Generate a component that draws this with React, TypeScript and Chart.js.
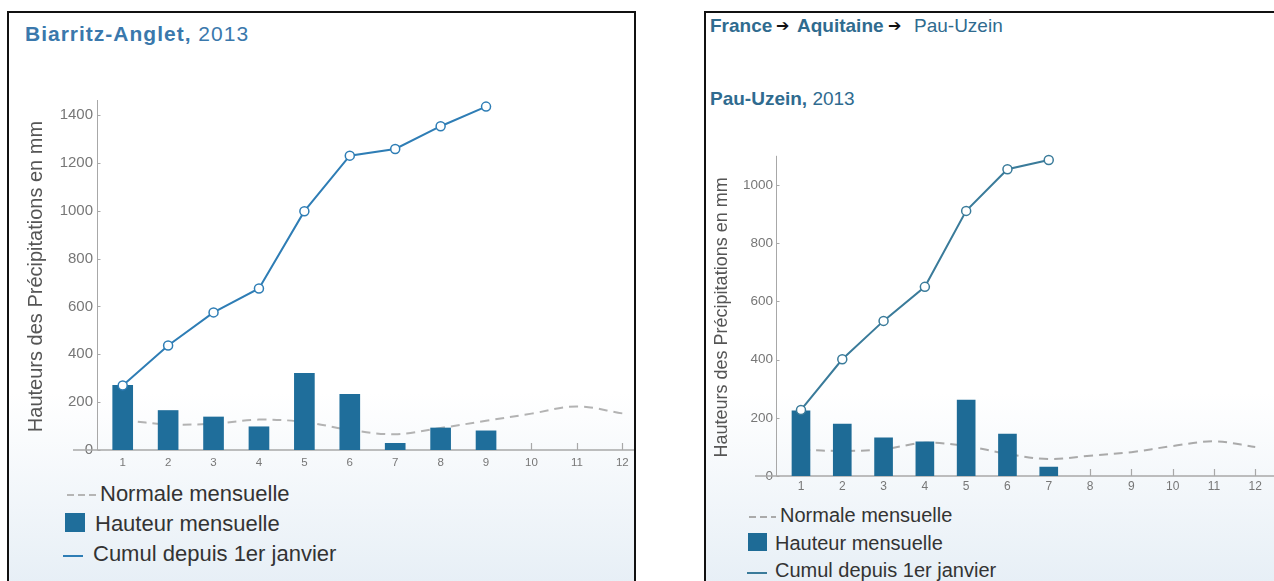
import React, { useEffect, useRef } from "react";
import { Chart, registerables } from "chart.js";

Chart.register(...registerables);

// ---------- data ----------
const monthNumbers = [1, 2, 3, 4, 5, 6, 7, 8, 9, 10, 11, 12];
const monthLabels = ["1", "2", "3", "4", "5", "6", "7", "8", "9", "10", "11", "12"];

const biarritzMonthly = [270, 165, 138, 97, 320, 233, 28, 92, 80];
const biarritzCumul = [270, 437, 575, 675, 998, 1230, 1258, 1353, 1435];
const biarritzNormal = [125, 107, 110, 127, 117, 84, 66, 92, 122, 152, 182, 153];

const pauMonthly = [224, 178, 131, 117, 261, 144, 31];
const pauCumul = [227, 401, 533, 650, 911, 1054, 1086];
const pauNormal = [90, 86, 92, 114, 103, 76, 58, 70, 82, 103, 119, 100];

const yAxisTitle = "Hauteurs des Précipitations en mm";
const legendNormal = "Normale mensuelle";
const legendMonthly = "Hauteur mensuelle";
const legendCumul = "Cumul depuis 1er janvier";

const FONT = "'Liberation Sans', Arial, Helvetica, sans-serif";

// ---------- plugin drawing axis lines / inward ticks ----------
const axisPlugin = {
  id: "customAxes",
  beforeDatasetsDraw(chart: any, _args: any, opts: any) {
    const { ctx, chartArea } = chart;
    const xs = chart.scales.x;
    const ys = chart.scales.y;
    ctx.save();
    ctx.strokeStyle = opts.color;
    const ax = Math.round(chartArea.left) + 0.5;
    // y axis line
    ctx.lineWidth = 1;
    ctx.beginPath();
    ctx.moveTo(ax, chartArea.top - opts.yOver);
    ctx.lineTo(ax, chartArea.bottom);
    // y ticks, pointing inward
    ys.ticks.forEach((_t: any, i: number) => {
      const py = Math.round(ys.getPixelForTick(i)) + 0.5;
      ctx.moveTo(ax, py);
      ctx.lineTo(ax + 3, py);
    });
    ctx.stroke();
    // x ticks pointing upward
    ctx.beginPath();
    ctx.lineWidth = 1.2;
    xs.ticks.forEach((_t: any, i: number) => {
      const px = Math.round(xs.getPixelForTick(i)) + 0.5;
      ctx.moveTo(px, chartArea.bottom);
      ctx.lineTo(px, chartArea.bottom - 7);
    });
    ctx.stroke();
    // x axis line, extending left past the y axis
    ctx.beginPath();
    ctx.lineWidth = 1.5;
    ctx.moveTo(chartArea.left - opts.xExt, chartArea.bottom);
    ctx.lineTo(chartArea.right, chartArea.bottom);
    ctx.stroke();
    ctx.restore();
  },
};

function buildConfig(c: any) {
  return {
    data: {
      datasets: [
        {
          type: "line",
          label: legendNormal,
          data: c.normal.map((v: number, i: number) => ({ x: monthNumbers[i], y: v })),
          borderColor: c.normalColor,
          borderWidth: 2,
          borderDash: [9, 6],
          tension: 0.35,
          pointRadius: 0,
          fill: false,
          order: 3,
        },
        {
          type: "bar",
          label: legendMonthly,
          data: c.monthly.map((v: number, i: number) => ({ x: monthNumbers[i], y: v })),
          backgroundColor: c.barColor,
          barThickness: c.barW,
          order: 2,
        },
        {
          type: "line",
          label: legendCumul,
          data: c.cumul.map((v: number, i: number) => ({ x: monthNumbers[i], y: v })),
          borderColor: c.lineColor,
          borderWidth: 2,
          tension: 0,
          pointRadius: 4.5,
          pointBackgroundColor: "#ffffff",
          pointBorderColor: c.lineColor,
          pointBorderWidth: 1.5,
          fill: false,
          clip: false,
          order: 1,
        },
      ],
    },
    options: {
      responsive: false,
      animation: false,
      devicePixelRatio: 1,
      layout: { padding: { top: c.padTop, left: 0, right: 0, bottom: 0 } },
      plugins: {
        legend: { display: false },
        tooltip: { enabled: false },
        customAxes: { color: "#a8a8a8", xExt: c.xExt, yOver: 3 },
      },
      scales: {
        x: {
          type: "linear",
          offset: false,
          min: c.xMin,
          max: c.xMax,
          afterBuildTicks: (s: any) => {
            s.ticks = monthNumbers.map((m) => ({ value: m }));
          },
          afterFit: (s: any) => {
            s.height = c.xHeight;
          },
          grid: { display: false, drawTicks: false, offset: false },
          border: { display: false },
          ticks: {
            autoSkip: false,
            maxRotation: 0,
            padding: c.xPad,
            color: "#777",
            font: { family: FONT, size: c.xFont },
            callback: (_v: any, i: number) => monthLabels[i],
          },
        },
        y: {
          type: "linear",
          min: 0,
          max: c.yMax,
          afterFit: (s: any) => {
            s.width = c.yWidth;
          },
          grid: { display: false, drawTicks: false },
          border: { display: false },
          ticks: {
            stepSize: 200,
            includeBounds: false,
            padding: c.yPad,
            color: "#777",
            font: { family: FONT, size: c.yFont },
            callback: (v: any) => String(v),
          },
          title: {
            display: true,
            text: yAxisTitle,
            color: "#555",
            font: { family: FONT, size: c.titleFont },
            padding: { top: c.titlePad, bottom: 0 },
          },
        },
      },
    },
    plugins: [axisPlugin],
  };
}

function PrecipChart({ c }: any) {
  const ref = useRef<HTMLCanvasElement>(null);
  useEffect(() => {
    const chart = new Chart(ref.current as HTMLCanvasElement, buildConfig(c) as any);
    return () => chart.destroy();
  }, []);
  return (
    <canvas
      ref={ref}
      width={c.w}
      height={c.h}
      style={{ position: "absolute", left: c.left, top: c.top, width: c.w, height: c.h }}
    />
  );
}

const leftCfg = {
  left: 0, top: 77, w: 642, h: 385,
  padTop: 9.9, yWidth: 88, xHeight: 25,
  xMin: 0.434, xMax: 12.5, yMax: 1450,
  xPad: 6, yPad: 4, xFont: 11.5, yFont: 15, titleFont: 20, titlePad: 15,
  xExt: 24, barW: 20,
  barColor: "#1f6e9b", lineColor: "#2e7db5", normalColor: "#b3b3b3",
  monthly: biarritzMonthly, cumul: biarritzCumul, normal: biarritzNormal,
};

const rightCfg = {
  left: 0, top: 127, w: 580, h: 360,
  padTop: 18.8, yWidth: 70, xHeight: 24,
  xMin: 0.395, xMax: 12.6, yMax: 1090,
  xPad: 3, yPad: 3, xFont: 12, yFont: 13.5, titleFont: 18, titlePad: 5.2,
  xExt: 21, barW: 18,
  barColor: "#1e6b96", lineColor: "#3a7b9a", normalColor: "#aaaaaa",
  monthly: pauMonthly, cumul: pauCumul, normal: pauNormal,
};

function Txt({ x, base, size, color, weight, family, ls, children }: any) {
  return (
    <div
      style={{
        position: "absolute",
        left: x,
        top: base - 0.8465 * size,
        fontSize: size,
        lineHeight: `${size}px`,
        fontFamily: family || FONT,
        color,
        fontWeight: weight || "normal",
        whiteSpace: "nowrap",
        letterSpacing: ls,
      }}
    >
      {children}
    </div>
  );
}

const panelStyle = (left: number, width: number): React.CSSProperties => ({
  position: "absolute",
  left,
  top: 11,
  width,
  height: 570,
  boxSizing: "border-box",
  borderTop: "2px solid #111",
  borderLeft: "2px solid #111",
  borderRight: "2px solid #111",
  overflow: "hidden",
  background: "linear-gradient(180deg, #ffffff 0px, #ffffff 380px, #e7eff6 570px)",
});

function Box({ x, y, w, h, bg }: any) {
  return <div style={{ position: "absolute", left: x, top: y, width: w, height: h, background: bg }} />;
}

export default function App() {
  useEffect(() => {
    document.body.style.overflow = "hidden";
  }, []);
  const dash = (c: string) => `repeating-linear-gradient(90deg, ${c} 0px, ${c} 7px, transparent 7px, transparent 11px)`;
  return (
    <div>
      <div style={panelStyle(7, 629)}>
        <PrecipChart c={leftCfg} />
      </div>
      <div style={{ ...panelStyle(704, 572), borderRight: "none" }}>
        <PrecipChart c={rightCfg} />
      </div>

      {/* left headings */}
      <Txt x={25} base={41} size={21} color="#3a78ac" ls="1px">
        <b>Biarritz-Anglet,</b> 2013
      </Txt>

      {/* left legend */}
      <Box x={67} y={494} w={30} h={2} bg={dash("#b5b5b5")} />
      <Txt x={100} base={501.7} size={22} color="#333">{legendNormal}</Txt>
      <Box x={65} y={513} w={20} h={19} bg={leftCfg.barColor} />
      <Txt x={95} base={532} size={22} color="#333">{legendMonthly}</Txt>
      <Box x={63} y={555} w={20} h={2} bg={leftCfg.lineColor} />
      <Txt x={93} base={561.7} size={22} color="#333">{legendCumul}</Txt>

      {/* right headings */}
      <Txt x={710} base={31.7} size={19} color="#2f6b8f" weight="bold">France</Txt>
      <Txt x={776} base={31.5} size={16} color="#111" weight="bold" family="'DejaVu Sans', sans-serif">➔</Txt>
      <Txt x={797} base={31.7} size={19} color="#2f6b8f" weight="bold">Aquitaine</Txt>
      <Txt x={888} base={31.5} size={16} color="#111" weight="bold" family="'DejaVu Sans', sans-serif">➔</Txt>
      <Txt x={914} base={31.7} size={19} color="#2f6b8f">Pau-Uzein</Txt>
      <Txt x={710} base={105} size={19} color="#2f6b8f">
        <b>Pau-Uzein,</b> 2013
      </Txt>

      {/* right legend */}
      <Box x={749} y={516} w={27} h={2} bg={dash("#aaaaaa")} />
      <Txt x={780} base={521.7} size={20} color="#333">{legendNormal}</Txt>
      <Box x={748} y={533} w={19} h={18} bg={rightCfg.barColor} />
      <Txt x={775} base={550} size={20} color="#333">{legendMonthly}</Txt>
      <Box x={747} y={572} w={20} h={2} bg={rightCfg.lineColor} />
      <Txt x={775} base={577} size={20} color="#333">{legendCumul}</Txt>
    </div>
  );
}
